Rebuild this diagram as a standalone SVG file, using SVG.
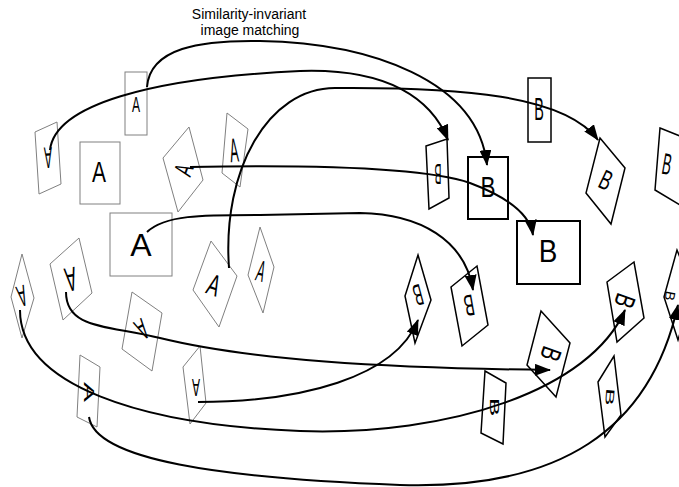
<svg xmlns="http://www.w3.org/2000/svg" width="679" height="487" viewBox="0 0 679 487">
<style>
.a{fill:none;stroke:#808080;stroke-width:1}
.b{fill:none;stroke:#000;stroke-width:1.5}
.bb{fill:none;stroke:#000;stroke-width:2}
.l{font-family:"Liberation Sans",Arial,sans-serif;fill:#000;text-anchor:middle;dominant-baseline:central}
.c{fill:none;stroke:#000;stroke-width:2}
.t{font-family:"Liberation Sans",Arial,sans-serif;font-size:14px;fill:#000;text-anchor:middle}
</style>
<defs>
<marker id="arr" markerUnits="userSpaceOnUse" markerWidth="16" markerHeight="12" refX="15" refY="6" orient="auto">
<path d="M0,0 L16,6 L0,12 z" fill="#000"/>
</marker>
</defs>
<rect width="679" height="487" fill="#fff"/>
<text class="t" x="249" y="19">Similarity-invariant</text>
<text class="t" x="250" y="35">image matching</text>

<g id="A1"><rect class="a" x="125" y="72" width="22" height="63"/><text class="l" font-size="22" transform="translate(136,105) scale(0.55,1)">A</text></g>
<g id="A2"><polygon class="a" points="35,132 57,122 61,184 39,194"/><text class="l" font-size="30" transform="translate(48,158) rotate(178) scale(0.4,1)">A</text></g>
<g id="A3"><rect class="a" x="80" y="142" width="40" height="62"/><text class="l" font-size="30" transform="translate(99,172) scale(0.7,1)">A</text></g>
<g id="A4"><rect class="a" x="110" y="213" width="62" height="63"/><text class="l" font-size="32" transform="translate(141,245)">A</text></g>
<g id="A5"><polygon class="a" points="189,127 203,180 178,212 163,158"/><text class="l" font-size="26" transform="translate(184,170) rotate(-70) scale(0.6,1)">A</text></g>
<g id="A6"><polygon class="a" points="227,113 248,129 240,187 222,173"/><text class="l" font-size="34" transform="translate(234,150) rotate(-5) scale(0.38,1)">A</text></g>
<g id="A7"><polygon class="a" points="211,241 237,276 219,327 193,290"/><text class="l" font-size="30" transform="translate(214,285) rotate(20) scale(0.6,1)">A</text></g>
<g id="A8"><polygon class="a" points="260,227 274,267 263,313 248,275"/><text class="l" font-size="30" transform="translate(261,271) rotate(15) scale(0.4,1)">A</text></g>
<g id="A9"><polygon class="a" points="22,254 34,298 22,338 11,297"/><text class="l" font-size="30" transform="translate(22,296) rotate(165) scale(0.45,1)">A</text></g>
<g id="A10"><polygon class="a" points="50,264 79,238 92,293 63,320"/><text class="l" font-size="34" transform="translate(71,279) rotate(170) scale(0.5,1)">A</text></g>
<g id="A11"><polygon class="a" points="132,292 162,313 152,371 122,349"/><text class="l" font-size="30" transform="translate(142,329) rotate(150) scale(0.5,1)">A</text></g>
<g id="A12"><polygon class="a" points="200,346 206,403 190,424 183,367"/><text class="l" font-size="24" transform="translate(196,387) rotate(180) scale(0.5,1)">A</text></g>
<g id="A13"><polygon class="a" points="80,355 100,367 97,427 77,417"/><text class="l" font-size="20" transform="translate(89,392) rotate(90) scale(1.5,0.7)">A</text></g>

<g id="B1"><rect class="b" x="528" y="78" width="23" height="64"/><text class="l" font-size="32" transform="translate(539,109) scale(0.45,1)">B</text></g>
<g id="B2"><rect class="bb" x="468" y="157" width="40" height="62"/><text class="l" font-size="30" transform="translate(488,187) scale(0.75,1)">B</text></g>
<g id="B3"><rect class="bb" x="517" y="221" width="63" height="63"/><text class="l" font-size="31" transform="translate(548,251) scale(0.9,1)">B</text></g>
<g id="B4"><polygon class="b" points="426,146 447,139 449,198 429,209"/><text class="l" font-size="30" transform="translate(438,174) rotate(180) scale(0.35,1)">B</text></g>
<g id="B5"><polygon class="b" points="600,138 625,168 611,224 586,193"/><text class="l" font-size="28" transform="translate(606,180) rotate(25) scale(0.6,1)">B</text></g>
<g id="B6"><polygon class="b" points="660,128 690,140 680,205 655,190"/><text class="l" font-size="30" transform="translate(667,164) rotate(10) scale(0.45,1)">B</text></g>
<g id="B7"><polygon class="b" points="418,255 431,300 415,343 405,296"/><text class="l" font-size="30" transform="translate(418,295) rotate(165) scale(0.45,1)">B</text></g>
<g id="B8"><polygon class="b" points="451,287 477,266 488,325 462,346"/><text class="l" font-size="30" transform="translate(469,305) rotate(170) scale(0.5,1)">B</text></g>
<g id="B9"><polygon class="b" points="541,311 570,343 556,397 527,365"/><text class="l" font-size="28" transform="translate(551,354) rotate(110) scale(0.7,1)">B</text></g>
<g id="B10"><polygon class="b" points="485,371 506,383 503,444 481,433"/><text class="l" font-size="20" transform="translate(494,407) rotate(90) scale(1.4,0.65)">B</text></g>
<g id="B11"><polygon class="b" points="598,382 614,356 621,415 605,437"/><text class="l" font-size="20" transform="translate(610,397) rotate(95) scale(1.3,0.6)">B</text></g>
<g id="B12"><polygon class="b" points="607,282 634,262 644,318 617,342"/><text class="l" font-size="28" transform="translate(625,301) rotate(110) scale(0.7,1)">B</text></g>
<g id="B13"><polygon class="b" points="664,297 677,250 693,290 678,340"/><text class="l" font-size="20" transform="translate(670,296) rotate(100) scale(0.7,0.7)">B</text></g>

<g id="connectors">
<path class="c" marker-end="url(#arr)" d="M147,87 C150,48 200,40 260,41 C370,43 478,80 487,165"/>
<path class="c" marker-end="url(#arr)" d="M50,150 C55,105 150,78 300,71 C390,68 432,100 448,140"/>
<path class="c" marker-end="url(#arr)" d="M229,268 C222,170 268,88 335,88 C460,87 565,95 598,140"/>
<path class="c" marker-end="url(#arr)" d="M190,167 C300,165 420,166 470,183 C510,198 530,215 533,235"/>
<path class="c" marker-end="url(#arr)" d="M147,232 C165,215 200,215 260,215 L360,213 C420,214 465,240 473,290"/>
<path class="c" marker-end="url(#arr)" d="M66,292 C66,330 110,325 160,338 C250,360 380,368 550,370"/>
<path class="c" marker-end="url(#arr)" d="M198,402 C300,402 395,378 418,320"/>
<path class="c" marker-end="url(#arr)" d="M20,310 C20,385 140,425 300,431 C450,436 590,390 625,310"/>
<path class="c" marker-end="url(#arr)" d="M89,417 C95,460 220,478 400,485 C560,490 650,430 678,305"/>
</g>
</svg>
